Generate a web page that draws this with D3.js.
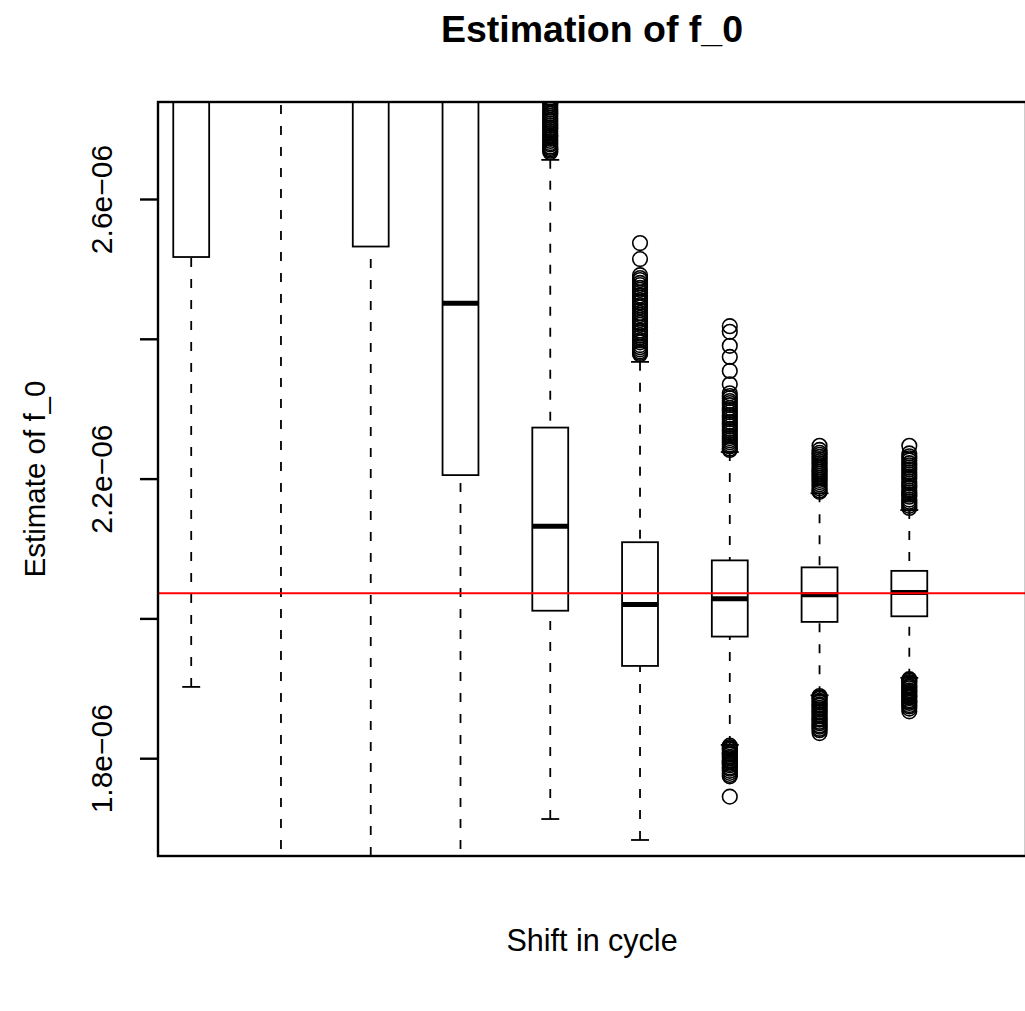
<!DOCTYPE html>
<html>
<head>
<meta charset="utf-8">
<script src="https://cdn.jsdelivr.net/npm/d3@7"></script>
<style>
  html, body { margin: 0; padding: 0; background: #fff; }
  svg { display: block; font-family: "Liberation Sans", Arial, sans-serif; }
</style>
</head>
<body>
<svg id="chart" width="1025" height="1011"></svg>
<script>
// ---- data (values in units of 1e-06) ----
const categories = ["1", "2", "3", "4", "5", "6", "7", "8", "9"];
const lowerWhisker = [1.902, 1.550, 1.600, 1.580, 1.713, 1.683, 1.819, 1.890, 1.915];
const q1           = [2.517, 2.900, 2.532, 2.205, 2.011, 1.932, 1.974, 1.995, 2.003];
const median       = [2.950, 3.300, 2.900, 2.451, 2.132, 2.020, 2.028, 2.034, 2.037];
const q3           = [3.400, 3.800, 3.300, 2.800, 2.273, 2.109, 2.083, 2.073, 2.068];
const upperWhisker = [4.200, 4.600, 4.100, 3.500, 2.656, 2.367, 2.238, 2.179, 2.155];
const outliers5 = [2.667, 2.669, 2.671, 2.673, 2.675, 2.678, 2.680, 2.683, 2.686, 2.689,
                   2.691, 2.694, 2.697, 2.700, 2.702, 2.705, 2.708, 2.711, 2.713, 2.716,
                   2.719, 2.722, 2.725, 2.728, 2.731, 2.734, 2.737, 2.740, 2.744, 2.750];
const outliers6 = [2.537, 2.514, 2.491, 2.487, 2.484, 2.480, 2.477, 2.473, 2.470, 2.466,
                   2.462, 2.459, 2.455, 2.452, 2.448, 2.445, 2.441, 2.437, 2.434, 2.430,
                   2.427, 2.423, 2.420, 2.416, 2.412, 2.409, 2.405, 2.402, 2.398, 2.395,
                   2.391, 2.388, 2.385, 2.382, 2.380, 2.378];
const outliers7 = [2.418, 2.410, 2.390, 2.374, 2.354, 2.335, 2.322, 2.318, 2.315, 2.311,
                   2.308, 2.305, 2.301, 2.298, 2.295, 2.291, 2.288, 2.285, 2.281, 2.278,
                   2.275, 2.271, 2.268, 2.265, 2.261, 2.258, 2.255, 2.252, 2.249, 2.246,
                   2.243, 2.241,
                   1.818, 1.816, 1.814, 1.812, 1.809, 1.807, 1.805, 1.802, 1.800, 1.797,
                   1.795, 1.792, 1.790, 1.787, 1.785, 1.782, 1.779, 1.776, 1.774, 1.745];
const outliers8 = [2.247, 2.241, 2.237, 2.234, 2.231, 2.228, 2.225, 2.222, 2.219, 2.216,
                   2.213, 2.210, 2.207, 2.204, 2.201, 2.198, 2.195, 2.192, 2.189, 2.186,
                   2.183, 2.181,
                   1.889, 1.887, 1.885, 1.882, 1.880, 1.877, 1.875, 1.872, 1.870, 1.867,
                   1.865, 1.862, 1.860, 1.857, 1.855, 1.852, 1.850, 1.847, 1.845, 1.842,
                   1.840, 1.836];
const outliers9 = [2.247, 2.236, 2.232, 2.229, 2.226, 2.222, 2.219, 2.216, 2.213, 2.209,
                   2.206, 2.203, 2.200, 2.196, 2.193, 2.190, 2.187, 2.183, 2.180, 2.177,
                   2.174, 2.170, 2.167, 2.164, 2.161, 2.158,
                   1.913, 1.911, 1.909, 1.907, 1.904, 1.902, 1.900, 1.897, 1.895, 1.893,
                   1.890, 1.888, 1.886, 1.883, 1.881, 1.879, 1.876, 1.874, 1.871, 1.867];
const outlierSets = [[], [], [], [], outliers5, outliers6, outliers7, outliers8, outliers9];
const trueValue = 2.036;
const yTickValues = [1.8, 2.0, 2.2, 2.4, 2.6];
const yTickLabels = ["1.8e\u221206", "", "2.2e\u221206", "", "2.6e\u221206"];
const titleText = "Estimation of f_0";
const xLabelText = "Shift in cycle";
const yLabelText = "Estimate of f_0";

// ---- layout ----
const svg = d3.select("#chart");
const plotL = 158, plotR = 1026, plotT = 102, plotB = 856;

const x = d3.scaleLinear().domain([0.63, 10.3]).range([plotL, plotR]);
const y = d3.scaleLinear().domain([1.8, 2.6]).range([758.2, 199]);

const boxW = x(1.4) - x(1.0);
const stapleW = boxW / 2;
const lw = 1.8;

svg.append("defs").append("clipPath").attr("id", "plotclip")
  .append("rect").attr("x", plotL).attr("y", plotT)
  .attr("width", plotR - plotL).attr("height", plotB - plotT);

const g = svg.append("g").attr("clip-path", "url(#plotclip)");

const stats = categories.map((c, i) => ({
  i: i + 1, lw: lowerWhisker[i], q1: q1[i], med: median[i], q3: q3[i], uw: upperWhisker[i],
  out: outlierSets[i]
}));

stats.forEach(s => {
  const cx = x(s.i);
  g.append("line").attr("x1", cx).attr("x2", cx)
    .attr("y1", y(s.uw)).attr("y2", y(s.q3))
    .attr("stroke", "#000").attr("stroke-width", lw).attr("stroke-dasharray", "9,12");
  g.append("line").attr("x1", cx).attr("x2", cx)
    .attr("y1", y(s.lw)).attr("y2", y(s.q1))
    .attr("stroke", "#000").attr("stroke-width", lw).attr("stroke-dasharray", "9,12");
  [s.uw, s.lw].forEach(v => {
    g.append("line").attr("x1", cx - stapleW / 2).attr("x2", cx + stapleW / 2)
      .attr("y1", y(v)).attr("y2", y(v))
      .attr("stroke", "#000").attr("stroke-width", lw);
  });
  g.append("rect").attr("x", cx - boxW / 2).attr("y", y(s.q3))
    .attr("width", boxW).attr("height", y(s.q1) - y(s.q3))
    .attr("fill", "#fff").attr("stroke", "#000").attr("stroke-width", lw);
  s.out.forEach(v => {
    g.append("circle").attr("cx", cx).attr("cy", y(v)).attr("r", 7.3)
      .attr("fill", "none").attr("stroke", "#000").attr("stroke-width", 1.6);
  });
});

stats.forEach(s => {
  const cx = x(s.i);
  g.append("line").attr("x1", cx - boxW / 2).attr("x2", cx + boxW / 2)
    .attr("y1", y(s.med)).attr("y2", y(s.med))
    .attr("stroke", "#000").attr("stroke-width", 5);
});
g.append("line").attr("x1", plotL).attr("x2", plotR)
  .attr("y1", y(trueValue)).attr("y2", y(trueValue))
  .attr("stroke", "#ff0000").attr("stroke-width", 1.8);

svg.append("rect").attr("x", plotL).attr("y", plotT)
  .attr("width", plotR - plotL).attr("height", plotB - plotT)
  .attr("fill", "none").attr("stroke", "#000").attr("stroke-width", 2.4);

const yAxis = d3.axisLeft(y).tickValues(yTickValues)
  .tickFormat((d, i) => yTickLabels[i]).tickSize(18).tickPadding(0);
const ya = svg.append("g").attr("transform", `translate(${plotL},0)`).call(yAxis);
ya.select(".domain").remove();
ya.selectAll(".tick line").attr("stroke", "#000").attr("stroke-width", 2.4);
ya.selectAll(".tick text")
  .attr("x", null).attr("dy", null)
  .attr("transform", "translate(-46,0) rotate(-90)")
  .attr("text-anchor", "middle")
  .attr("font-size", 30).attr("fill", "#000")
  .attr("font-family", "'Liberation Sans', Arial, sans-serif");

svg.append("text").attr("x", (plotL + plotR) / 2).attr("y", 42)
  .attr("text-anchor", "middle").attr("font-weight", "bold")
  .attr("font-size", 37.5).text(titleText);
svg.append("text").attr("x", (plotL + plotR) / 2).attr("y", 951)
  .attr("text-anchor", "middle").attr("font-size", 30.5).text(xLabelText);
svg.append("text").attr("transform", `translate(45,${(plotT + plotB) / 2}) rotate(-90)`)
  .attr("text-anchor", "middle").attr("font-size", 29.5).text(yLabelText);
</script>
</body>
</html>
